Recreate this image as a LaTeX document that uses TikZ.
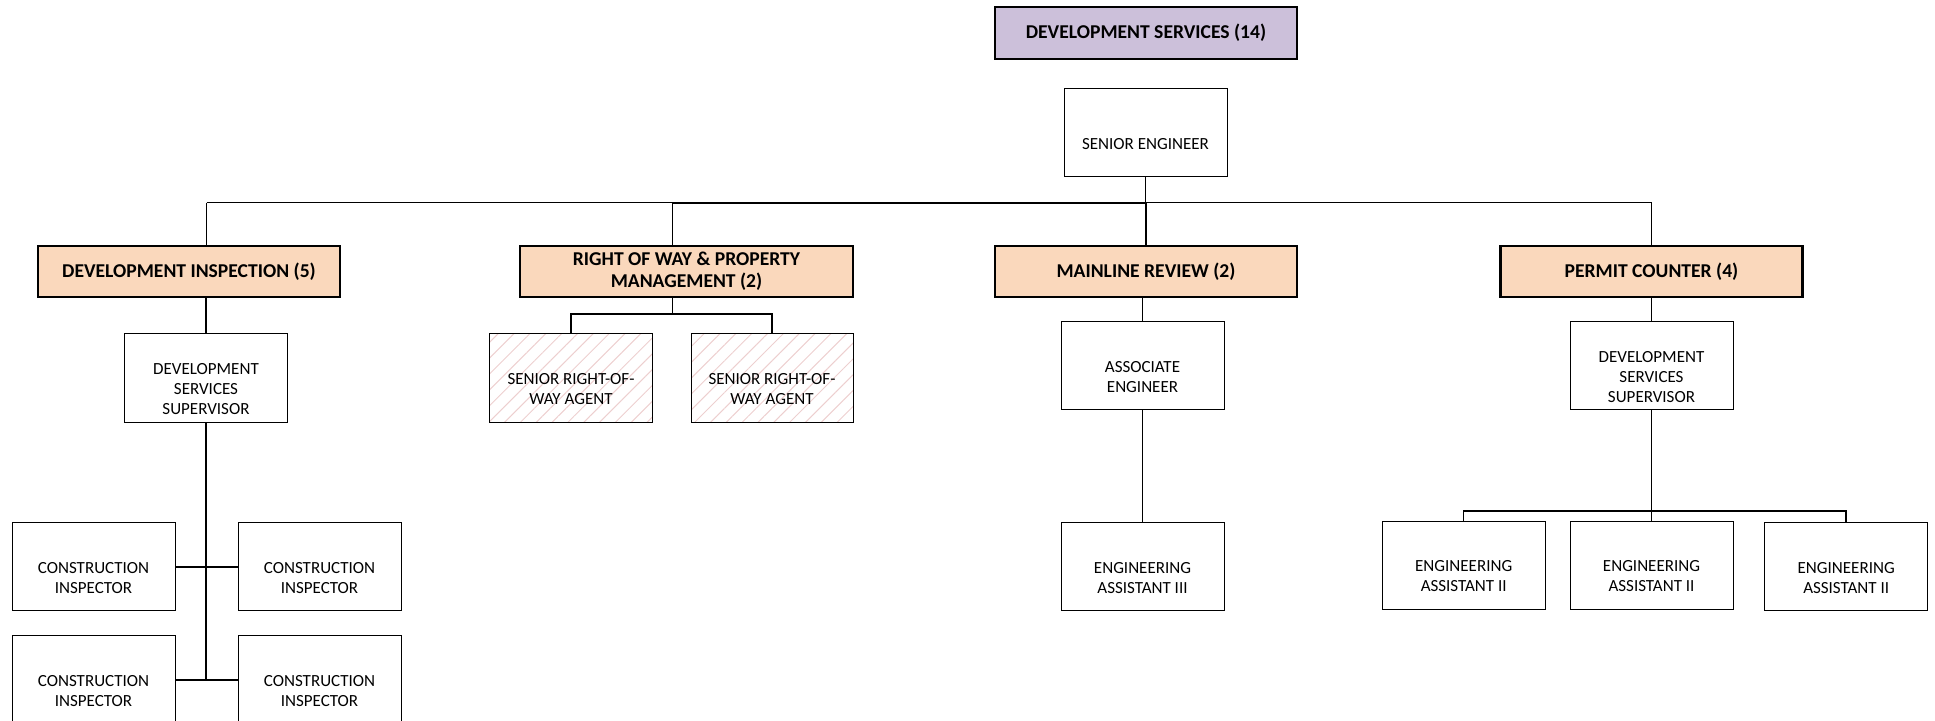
\documentclass[tikz,border=0pt]{standalone}
\usepackage{fontspec}
\setmainfont{Carlito}
\usetikzlibrary{patterns.meta}

\definecolor{lav}{HTML}{CCC0DA}
\definecolor{peach}{HTML}{FAD8BC}
\definecolor{hatch}{HTML}{EDCFCF}

\tikzset{
  head/.style={draw, line width=1.25pt, fill=peach, minimum width=151pt,
    minimum height=25.5pt, inner sep=0pt, align=center,
    font=\bfseries\fontsize{9.8}{11}\selectfont},
  txt/.style={yshift=-5.5pt, align=center, inner sep=0pt,
    font=\fontsize{8.5}{10}\selectfont},
  post/.style={draw, line width=0.5pt, fill=white, minimum width=81.5pt,
    minimum height=44pt, inner sep=0pt, label={[txt]center:{#1}}},
  vacant/.style={post={#1}, fill=none,
    pattern={Lines[angle=45, distance=5.6pt, line width=0.5pt]},
    pattern color=hatch},
  link/.style={line width=0.75pt},
}

\begin{document}
\begin{tikzpicture}[x=0.5pt, y=-0.5pt]
\useasboundingbox (0,0) rectangle (1935,721);

% division title
\node[head, fill=lav, minimum height=26pt] (ds) at (1146,33) {DEVELOPMENT SERVICES (14)};
\node[post={SENIOR ENGINEER}] (se) at (1145.5,133) {};

% sections
\node[head] (di)  at (189,271.5)    {DEVELOPMENT INSPECTION (5)};
\node[head, minimum width=166.5pt] (row) at (686.5,271.5) {RIGHT OF WAY \& PROPERTY\\MANAGEMENT (2)};
\node[head] (mr)  at (1146,271.5)   {MAINLINE REVIEW (2)};
\node[head] (pc)  at (1651.5,271.5) {PERMIT COUNTER (4)};

% development inspection
\node[post={DEVELOPMENT\\SERVICES\\SUPERVISOR}, minimum height=44.5pt] (dss1) at (206,378.5) {};
\node[post={CONSTRUCTION\\INSPECTOR}] (ci1) at (93.5,567) {};
\node[post={CONSTRUCTION\\INSPECTOR}] (ci2) at (319.5,567) {};
\node[post={CONSTRUCTION\\INSPECTOR}] (ci3) at (93.5,680) {};
\node[post={CONSTRUCTION\\INSPECTOR}] (ci4) at (319.5,680) {};

% right of way
\node[vacant={SENIOR RIGHT-OF-\\WAY AGENT}, minimum height=44.5pt] (ag1) at (571,378.5) {};
\node[vacant={SENIOR RIGHT-OF-\\WAY AGENT}, minimum height=44.5pt, minimum width=81pt] (ag2) at (772,378.5) {};

% mainline review
\node[post={ASSOCIATE\\ENGINEER}] (ae) at (1142.5,366) {};
\node[post={ENGINEERING\\ASSISTANT III}] (ea3) at (1142.5,567) {};

% permit counter
\node[post={DEVELOPMENT\\SERVICES\\SUPERVISOR}] (dss2) at (1651.5,366) {};
\node[post={ENGINEERING\\ASSISTANT II}] (ea2a) at (1463.7,565.5) {};
\node[post={ENGINEERING\\ASSISTANT II}] (ea2b) at (1651.5,565.5) {};
\node[post={ENGINEERING\\ASSISTANT II}] (ea2c) at (1846.2,567) {};

% main bus
\coordinate (busL) at (206.5,202.7);
\coordinate (busR) at (1651.5,202.7);
\coordinate (rowtap) at (672.7,202.7);
\draw[link] (busL) -- (busR);
\draw[link, line width=1pt] (rowtap) -- (se.south |- busL);
\draw[link] (se.south) -- (se.south |- busL);
\draw[link] (busL) -- (busL |- di.north);
\draw[link] (rowtap) -- (rowtap |- row.north);
\draw[link] (mr.north |- busL) -- (mr.north);
\draw[link] (busR) -- (pc.north);

% development inspection branch
\draw[link] (dss1.north |- di.south) -- (dss1.north);
\draw[link, line width=1.1pt] (dss1.south) -- (dss1.south |- ci3.east);
\draw[link] (ci1.east) -- (ci2.west);
\draw[link] (ci3.east) -- (ci4.west);

% right of way branch
\coordinate (rowsplit) at (672.7,314);
\draw[link] (rowsplit |- row.south) -- (rowsplit);
\draw[link] (ag1.north) |- (rowsplit) -| (ag2.north);

% mainline review branch
\draw[link] (ae.north |- mr.south) -- (ae.north);
\draw[link] (ae.south) -- (ea3.north);

% permit counter branch
\coordinate (pcbus) at (1651.5,511);
\draw[link] (pc.south) -- (dss2.north);
\draw[link] (dss2.south) -- (ea2b.north);
\draw[link] (ea2a.north) |- (pcbus) -| (ea2c.north);
\end{tikzpicture}
\end{document}
